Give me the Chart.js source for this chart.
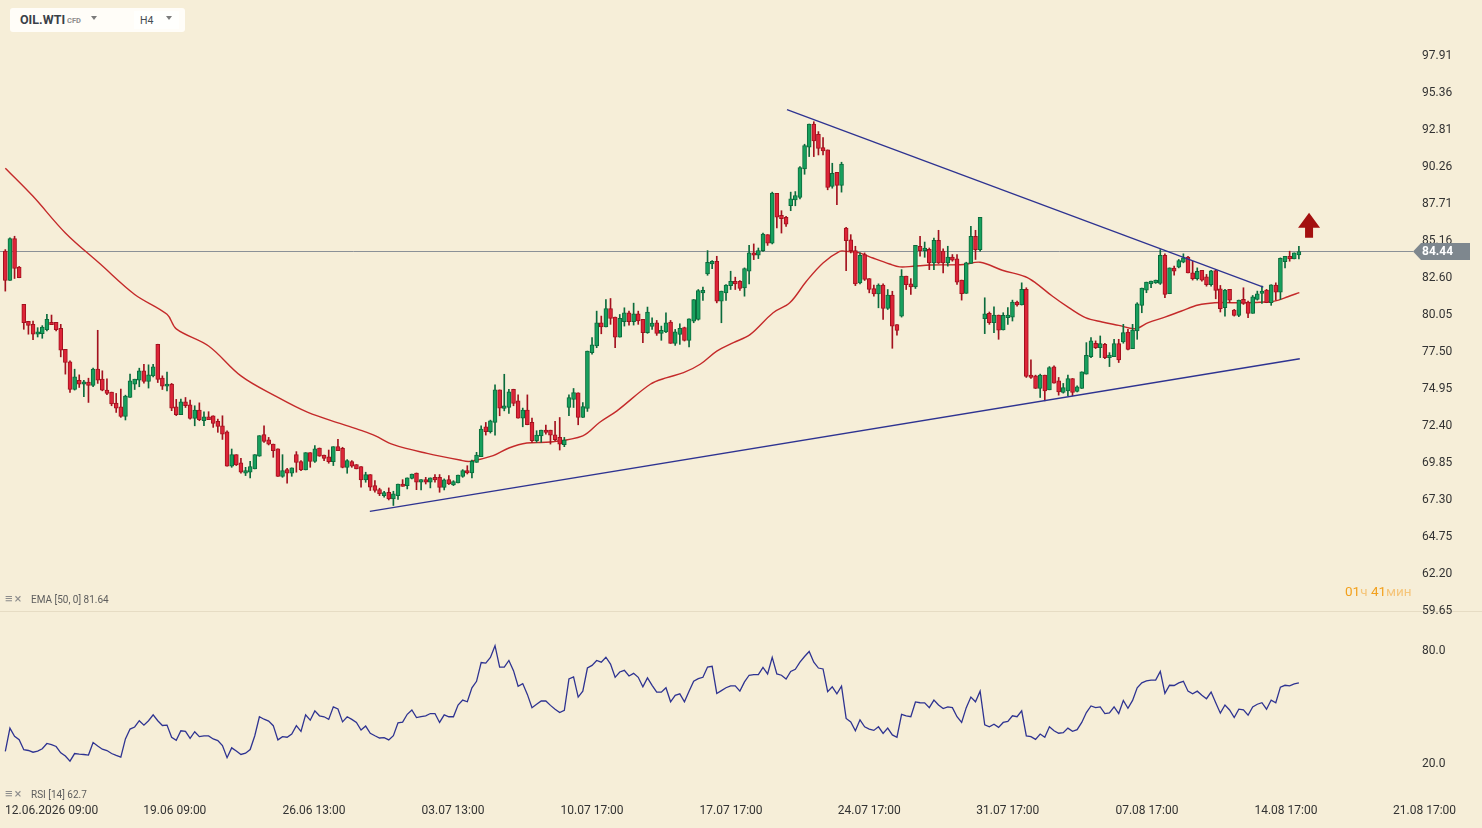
<!DOCTYPE html>
<html>
<head>
<meta charset="utf-8">
<title>OIL.WTI H4</title>
<script src="https://cdn.jsdelivr.net/npm/chart.js@4.4.1/dist/chart.umd.min.js"></script>
<style>
  html, body { margin: 0; padding: 0; width: 1482px; height: 828px; overflow: hidden;
    background: #f6eed8; font-family: Roboto, 'Noto Sans', sans-serif; }
  #priceChart { position: absolute; left: 0; top: 0; z-index: 2; }
  #rsiChart { position: absolute; left: 0; top: 612px; z-index: 1; }
  .divider { position: absolute; left: 0; top: 611px; width: 1482px; height: 1px; background: #e6dcc4; }

  /* symbol box */
  .symbol { position: absolute; left: 10px; top: 8px; width: 175px; height: 24px;
    background: #fffdf8; border-radius: 3px; z-index: 5; }
  .symbol .sym { position: absolute; left: 10px; top: 4px; font-size: 12.5px; font-weight: 700; color: #3a4047; }
  .symbol .cfd { position: absolute; left: 57px; top: 8px; font-size: 7.5px; font-weight: 700; color: #8d8d8d; }
  .caret { position: absolute; width: 0; height: 0; border-left: 3.5px solid transparent;
    border-right: 3.5px solid transparent; border-top: 4px solid #7b7b7b; }
  .symbol .c1 { left: 81px; top: 8px; }
  .symbol .tf { position: absolute; left: 124px; top: 3px; width: 45px; height: 18px; background: #fffffd; }
  .symbol .tf span.h4 { position: absolute; left: 6px; top: 3px; font-size: 10.5px; color: #454b52; }
  .symbol .c2 { left: 32px; top: 5px; }

  /* indicator captions */
  .cap { position: absolute; left: 5px; font-size: 10px; color: #5d5d5d; z-index: 5; white-space: nowrap; }
  .cap .ic { display: inline-block; width: 26px; color: #8c8c8c; font-size: 13px; letter-spacing: 2px; }
  .timer { position: absolute; left: 1345px; top: 583px; font-size: 13.5px; z-index: 5; color: #f2a01c; }
  .timer .u { color: #f5c57a; }
</style>
</head>
<body>
<canvas id="rsiChart" width="1482" height="216"></canvas>
<div class="divider"></div>
<canvas id="priceChart" width="1482" height="620"></canvas>

<div class="symbol">
  <span class="sym">OIL.WTI</span><span class="cfd">CFD</span><span class="caret c1"></span>
  <div class="tf"><span class="h4">H4</span><span class="caret c2"></span></div>
</div>
<div class="cap" style="top:591px"><span class="ic">&#8801;&#215;</span>EMA [50, 0] 81.64</div>
<div class="cap" style="top:786px"><span class="ic">&#8801;&#215;</span>RSI [14] 62.7</div>
<div class="timer">01<span class="u">ч</span> 41<span class="u">мин</span></div>

<script>
// OIL.WTI CFD, H4 candles with EMA(50) and RSI(14)

/* ── Axis labels ───────────────────────────────────────── */
const PRICE_TICKS = [97.91, 95.36, 92.81, 90.26, 87.71, 85.16, 82.60, 80.05, 77.50,
                     74.95, 72.40, 69.85, 67.30, 64.75, 62.20, 59.65];
const RSI_TICKS = [20, 80];
const TIME_LABELS = ['12.06.2026 09:00', '19.06 09:00', '26.06 13:00', '03.07 13:00', '10.07 17:00',
                     '17.07 17:00', '24.07 17:00', '31.07 17:00', '07.08 17:00', '14.08 17:00', '21.08 17:00'];
// candle index under each time label
const TIME_AT = [6.7, 36.7, 66.8, 96.9, 127.0, 157.1, 187.0, 217.0, 247.1, 277.2, 307.2];

/* ── Candles (one per 4 hours) ─────────────────────────── */
const OPEN = [
  84.45,82.43,85.32,83.35,80.79,79.62,79.41,78.73,78.77,79.05,
  79.55,79.55,79.14,77.69,76.82,74.92,75.56,75.29,75.43,75.20,
  76.32,75.63,74.88,74.74,73.99,73.73,73.07,74.37,75.29,75.56,
  76.21,75.47,75.86,78.04,75.70,75.15,75.29,73.73,73.18,74.07,
  73.87,72.93,73.50,72.77,73.04,73.11,72.72,72.42,72.01,69.63,
  70.43,69.86,69.15,69.22,69.45,70.32,71.81,71.46,71.16,70.84,
  68.94,69.40,69.15,70.43,69.95,69.38,70.57,69.97,70.89,70.41,
  70.29,69.95,70.98,70.87,69.56,69.95,69.75,69.61,68.69,69.06,
  68.30,68.02,67.61,67.84,67.38,67.61,68.41,68.30,68.80,69.17,
  68.53,68.71,68.53,68.87,68.87,68.18,68.71,68.35,68.48,68.94,
  69.33,69.17,69.90,70.29,72.35,72.01,72.65,74.89,73.61,73.68,
  74.94,74.14,72.95,73.50,72.65,71.39,71.73,72.12,72.12,71.80,
  71.62,71.12,73.68,74.23,74.69,72.99,73.61,77.46,77.92,79.52,
  79.24,80.50,79.91,78.53,79.59,80.21,79.59,80.14,79.75,78.83,
  79.27,79.52,78.79,78.88,79.57,78.10,78.72,79.18,78.31,79.63,
  79.75,81.58,82.89,83.57,83.76,81.01,81.58,82.08,82.38,82.38,
  81.92,83.07,84.33,84.17,84.49,85.59,85.01,88.43,86.92,86.78,
  87.58,87.99,88.15,90.12,91.61,93.21,92.50,91.59,91.43,88.91,
  89.89,88.98,86.05,85.24,84.49,82.27,84.21,82.56,81.88,81.51,
  82.11,80.50,81.42,79.40,79.98,82.73,82.20,81.99,84.79,84.49,
  84.58,83.64,85.20,84.45,83.65,84.04,83.92,82.46,81.54,83.60,
  85.48,84.56,79.80,80.17,79.53,80.05,79.02,79.87,79.91,80.94,
  80.74,81.82,75.91,75.86,74.99,75.91,74.90,76.48,75.52,74.72,
  74.83,75.68,74.79,74.99,75.98,77.19,78.11,77.81,78.04,77.12,
  77.19,78.08,78.20,78.88,77.74,78.95,80.72,81.77,82.20,82.27,
  82.23,84.17,81.52,83.28,83.35,83.69,84.04,82.96,82.55,83.14,
  82.69,82.14,83.12,81.86,80.56,81.82,80.40,80.03,81.13,80.95,
  80.17,81.13,81.54,81.77,80.90,82.11,81.63,83.72,84.10,83.92,84.20
];
const HIGH = [
  84.56,85.37,85.48,83.40,80.79,79.62,79.64,79.18,79.32,80.10,
  80.05,79.55,79.41,77.69,76.89,76.32,75.93,75.56,75.70,76.39,
  79.00,76.21,75.66,74.74,74.65,74.95,74.53,75.98,75.63,76.39,
  76.66,76.62,76.66,78.04,75.86,76.12,75.34,74.24,74.26,74.37,
  74.19,73.80,74.00,73.39,73.39,73.11,72.88,73.11,72.08,70.82,
  70.43,70.18,69.56,69.97,70.43,71.74,72.42,71.62,71.16,70.84,
  70.43,69.49,69.52,70.64,70.02,70.57,70.57,71.05,70.89,70.41,
  70.75,70.98,71.48,70.94,70.09,70.02,69.75,69.61,69.22,69.06,
  68.64,68.12,67.91,68.14,67.91,68.41,68.71,68.83,69.10,69.17,
  68.71,68.87,68.83,69.06,69.06,68.76,68.99,68.64,69.03,69.40,
  69.67,70.06,70.59,72.42,72.65,72.81,75.24,74.89,75.97,74.94,
  74.94,74.55,73.64,74.55,72.95,72.08,72.12,72.47,72.12,72.72,
  72.99,71.62,74.55,74.99,74.69,74.02,77.57,78.49,80.32,79.98,
  81.12,81.19,79.91,80.09,80.55,80.32,80.87,80.32,79.75,80.60,
  79.86,79.68,79.29,80.21,79.68,79.06,79.45,79.22,79.79,81.12,
  81.81,81.97,84.49,83.80,84.10,81.70,82.15,83.07,82.66,82.43,
  83.30,84.85,84.95,84.67,85.70,85.59,88.52,88.43,87.24,86.85,
  88.52,88.56,90.28,91.82,93.21,93.37,92.69,92.27,91.43,90.51,
  89.89,90.58,86.09,85.59,84.79,84.33,84.33,82.56,82.11,82.20,
  82.20,81.81,81.69,79.40,83.18,82.73,82.56,84.85,85.47,85.08,
  84.67,85.36,85.89,84.61,84.79,84.22,84.22,82.46,83.69,86.17,
  85.89,86.78,81.24,80.26,80.62,80.05,80.21,80.56,81.08,81.01,
  82.27,81.93,76.96,75.91,75.98,75.91,76.50,76.55,75.75,75.34,
  75.91,75.68,75.18,76.14,78.15,78.49,78.27,78.61,78.11,77.46,
  78.38,78.38,79.41,79.07,79.41,80.90,81.91,82.32,82.39,82.46,
  84.56,84.27,83.30,83.42,83.88,84.27,84.10,83.76,83.30,83.14,
  82.85,83.14,83.19,82.09,81.82,81.82,80.44,81.08,81.93,81.01,
  81.40,81.70,82.04,81.82,82.14,82.27,83.99,84.10,84.45,84.33,84.79
];
const LOW = [
  81.70,82.43,82.57,82.62,79.07,78.73,78.36,78.54,78.45,78.95,
  79.39,78.95,77.17,75.98,74.72,74.88,75.06,74.42,74.03,75.11,
  75.34,74.83,74.56,73.80,73.34,73.00,72.82,74.37,74.92,75.11,
  75.36,75.02,75.79,75.40,74.92,74.83,73.46,73.12,73.18,73.68,
  72.88,72.42,72.77,72.42,72.84,72.31,71.97,71.48,69.63,69.56,
  69.68,69.15,68.99,68.83,69.45,70.32,71.28,71.10,70.25,68.94,
  68.87,68.46,68.94,69.22,69.33,69.38,69.56,69.90,70.32,70.02,
  69.84,69.68,70.71,69.52,69.15,69.56,69.45,68.19,68.53,67.96,
  67.84,67.61,67.50,67.31,66.93,67.34,68.25,68.07,68.76,68.02,
  68.00,68.41,68.14,68.53,67.84,68.00,68.37,68.30,68.48,68.87,
  69.10,68.83,69.90,70.29,71.78,71.92,71.78,73.11,73.45,73.27,
  73.80,72.95,72.35,72.49,71.28,71.28,71.28,71.85,71.16,71.39,
  70.75,70.98,73.11,73.68,72.49,72.99,73.41,77.35,77.80,78.76,
  79.24,79.41,77.80,78.53,79.29,79.36,79.36,79.41,78.15,78.79,
  79.06,78.65,78.31,78.83,78.10,77.96,78.03,78.26,77.85,79.52,
  79.70,81.05,82.79,83.25,80.89,79.52,81.05,81.81,81.81,81.74,
  81.35,82.20,83.87,83.94,84.44,84.85,84.95,86.05,85.70,86.16,
  87.24,87.58,88.06,89.75,90.97,90.97,91.08,91.08,88.68,88.79,
  87.65,88.52,83.11,84.33,82.08,82.20,82.43,81.58,81.35,80.55,
  79.75,80.43,77.76,78.67,79.91,81.81,81.47,81.88,84.10,84.03,
  83.18,83.18,83.60,82.96,83.42,83.76,82.16,81.08,81.54,83.60,
  83.88,84.45,78.77,79.41,78.84,78.38,79.02,79.41,79.64,80.67,
  80.74,75.75,75.68,74.99,74.37,74.14,74.90,75.36,74.53,74.67,
  74.49,74.49,74.76,74.99,75.98,77.12,77.74,77.12,77.05,76.50,
  77.19,76.78,78.11,77.65,77.74,78.38,80.21,81.59,81.93,82.23,
  82.16,81.24,81.52,82.80,83.30,83.65,82.96,82.46,82.46,82.39,
  82.04,82.04,81.17,80.26,79.98,80.90,79.98,79.94,80.78,79.87,
  80.17,81.08,80.85,80.90,80.72,81.08,81.13,83.30,83.76,83.92,83.92
];
const CLOSE = [
  82.43,85.32,83.26,82.62,79.53,79.34,78.73,78.89,79.23,79.76,
  79.39,79.05,77.63,76.78,74.92,75.79,75.29,75.45,75.20,76.32,
  75.56,74.88,74.65,73.92,73.64,73.07,74.47,75.52,75.63,76.21,
  75.47,75.93,76.48,75.61,75.15,75.29,73.64,73.18,74.07,73.80,
  72.93,73.50,72.84,73.04,72.84,72.58,72.38,71.85,69.63,70.43,
  69.72,69.22,69.33,69.61,70.43,71.74,71.35,71.16,70.71,68.94,
  69.33,69.15,69.52,69.90,69.38,70.57,69.97,70.84,70.32,70.18,
  69.95,70.98,70.71,69.56,70.02,69.63,69.45,68.69,69.06,68.19,
  67.96,67.73,67.82,67.38,67.73,68.41,68.25,68.83,69.10,68.53,
  68.71,68.53,68.83,68.69,68.18,68.69,68.41,68.57,69.03,69.33,
  69.17,69.97,70.41,72.19,72.01,72.76,74.89,73.64,73.80,74.76,
  73.96,72.95,73.50,72.49,71.39,71.78,72.12,71.96,71.78,71.46,
  71.16,71.44,74.37,74.71,72.99,73.75,77.57,77.99,79.52,79.24,
  80.50,79.82,78.53,79.82,80.21,79.59,80.14,79.64,78.83,80.25,
  79.50,78.79,78.99,79.52,78.10,78.90,79.13,78.31,79.79,81.12,
  81.74,81.76,83.69,83.76,81.01,81.70,82.11,82.38,82.20,81.88,
  83.25,84.33,84.17,84.49,85.63,85.01,88.45,86.80,86.69,86.32,
  88.06,88.29,90.21,91.72,93.21,92.05,91.54,91.36,88.84,89.82,
  88.98,90.46,85.18,84.49,82.20,84.17,82.50,81.81,81.51,82.11,
  80.50,81.42,79.29,78.99,82.73,82.15,81.99,84.85,84.49,84.67,
  83.64,85.20,83.65,83.65,84.04,83.83,82.32,81.52,83.65,85.48,
  84.56,86.78,80.14,79.53,80.05,79.00,80.03,80.05,80.94,80.74,
  81.82,75.82,75.75,74.99,75.91,74.83,76.43,75.36,74.76,75.06,
  75.68,74.72,75.11,76.14,77.28,78.27,77.81,78.08,77.12,77.30,
  78.08,76.96,78.84,77.69,79.02,80.83,81.91,82.32,82.39,82.46,
  84.17,81.47,83.30,83.07,83.81,83.99,82.96,82.55,83.07,82.46,
  82.14,83.10,81.75,80.49,81.77,81.08,80.03,81.08,80.85,80.17,
  81.31,81.52,81.70,80.90,82.14,81.63,83.95,84.10,83.92,84.33,84.43
];
const LAST_PRICE = 84.44;

/* ── EMA(50), read at sample candles ───────────────────── */
const EMA_AT = [0, 6, 13, 20.5, 28, 35, 37, 44, 51, 58.4, 65.5, 72.9, 77, 80, 84, 91.3, 98.4, 100.5,
  105.6, 109, 112.9, 118, 125, 128.6, 132.4, 139.6, 143.2, 146.8, 150.4, 154, 157.6, 161.2, 166.2,
  169.8, 173.4, 177, 180.6, 182, 184.9, 187.8, 191.4, 193.6, 196.5, 200.2, 207.4, 211, 215.8, 220.8,
  223, 226.6, 230.2, 233.8, 237.4, 241, 244.6, 247.4, 251, 254.6, 258.2, 261.8, 265.4, 269, 272.6,
  274.7, 277.6, 280.1];
const EMA_VAL = [90.17, 88.23, 85.71, 83.58, 81.47, 80.10, 79.10, 77.92, 75.86, 74.48, 73.34, 72.54,
  72.10, 71.74, 71.12, 70.52, 70.06, 69.97, 70.36, 70.89, 71.23, 71.30, 71.73, 72.65, 73.45, 75.28,
  75.74, 76.08, 76.66, 77.57, 78.15, 78.70, 80.21, 80.89, 82.38, 83.64, 84.44, 84.44, 84.33, 83.98,
  83.57, 83.37, 83.41, 83.50, 83.53, 83.69, 83.14, 82.69, 82.27, 81.36, 80.56, 79.87, 79.57, 79.34,
  79.11, 79.53, 79.91, 80.33, 80.74, 80.90, 80.90, 80.90, 80.95, 81.01, 81.31, 81.60];

/* ── Trend lines: [candle index], [price] ──────────────── */
const UPPER_AT = [169.2, 272.3];
const UPPER_VAL = [94.20, 81.98];
const LOWER_AT = [78.9, 280.2];
const LOWER_VAL = [66.53, 77.04];

/* ── RSI(14), one value per candle ─────────────────────── */
const RSI = [
  26.8,39.1,34.8,33.0,27.7,27.3,26.4,27.0,28.2,31.0,
  30.4,29.4,26.1,24.4,21.7,25.7,25.4,25.2,24.9,31.5,
  29.7,28.0,27.3,25.7,24.7,23.8,33.4,38.6,39.7,43.0,
  40.7,43.0,46.1,43.0,40.5,40.7,34.3,32.7,37.7,37.4,
  33.7,37.2,34.6,35.0,35.0,33.4,32.5,29.9,23.5,28.7,
  27.0,25.2,25.9,27.8,35.1,45.1,43.8,42.8,40.4,32.9,
  34.6,34.3,36.0,40.4,37.4,46.1,43.3,48.2,45.6,45.1,
  43.7,50.3,49.2,42.4,45.1,43.7,42.1,38.1,40.2,36.4,
  35.1,33.9,34.1,32.9,35.1,41.9,42.3,46.4,48.7,44.7,
  45.2,45.6,46.8,46.8,42.1,46.1,45.1,45.1,51.3,53.9,
  53.0,60.4,63.8,73.7,73.4,76.4,82.6,71.3,71.3,74.8,
  69.4,61.2,62.6,56.9,49.9,51.7,53.4,53.4,51.1,49.1,
  47.3,48.5,65.0,66.1,55.5,58.6,70.8,72.2,74.8,73.9,
  76.5,72.9,65.9,68.7,69.6,66.6,68.0,65.9,60.9,65.6,
  61.7,58.1,58.1,60.4,53.0,56.4,57.2,53.0,58.6,63.8,
  65.2,65.9,71.3,71.7,57.4,58.9,60.4,61.4,61.4,58.6,
  63.5,67.0,67.3,67.3,71.1,67.7,76.4,67.7,67.0,65.0,
  69.0,70.1,73.9,76.9,79.5,73.9,70.8,70.3,58.3,60.9,
  57.2,61.2,44.2,42.4,37.7,43.5,39.8,38.6,37.9,39.8,
  36.3,39.1,35.5,34.3,46.4,45.6,45.1,52.9,52.5,52.4,
  49.9,53.9,51.3,49.4,50.3,49.9,45.1,42.1,49.9,55.5,
  53.0,58.6,40.9,39.8,41.2,39.5,42.1,42.6,45.6,45.1,
  48.2,35.0,34.6,33.2,36.0,34.3,39.8,37.7,36.4,36.7,
  39.1,37.4,38.3,42.1,47.3,50.8,49.9,50.3,46.8,47.1,
  50.3,46.8,53.7,49.6,53.7,60.4,63.0,64.0,64.4,64.4,
  69.0,57.4,61.7,61.6,63.0,63.8,58.6,57.2,58.6,56.4,
  54.6,58.1,52.5,47.0,51.3,48.7,44.7,49.1,48.7,45.9,
  50.3,51.7,52.5,49.1,53.9,52.5,60.7,61.7,61.4,62.4,63.0
];

(function () {
    'use strict';

    Chart.defaults.font.family = "Roboto, 'Noto Sans', sans-serif";
    Chart.defaults.font.size = 12;
    Chart.defaults.color = '#333';
    Chart.defaults.animation = false;
    Chart.defaults.plugins.legend.display = false;
    Chart.defaults.plugins.tooltip.enabled = false;

    const X_MIN = -1.15, X_MAX = 304.05;   // visible candle range incl. empty future space
    const AXIS_W = 72;

    const UP_FILL = '#17a05d', UP_EDGE = '#0b6b3c';
    const DN_FILL = '#dd2538', DN_EDGE = '#a3111e';
    const EMA_RED = '#c42a2a';
    const NAVY = '#2e3391';

    const idx = CLOSE.map((_, i) => i);
    const up = idx.map(i => CLOSE[i] >= OPEN[i]);

    function xAxis() {
        return { type: 'linear', min: X_MIN, max: X_MAX, display: false, offset: false };
    }

    // right-hand value axis; no label padding so the plot fills the panel
    function rightAxis(min, max, ticks, digits) {
        return {
            position: 'right', min, max,
            grid: { display: false, drawTicks: false },
            border: { display: false },
            afterBuildTicks: s => { s.ticks = ticks.map(v => ({ value: v })); },
            afterFit: s => { s.width = AXIS_W; s.paddingTop = 0; s.paddingBottom = 0; },
            ticks: { padding: 12, color: '#333', font: { size: 12 }, callback: v => v.toFixed(digits) }
        };
    }

    /* ── price line, price tag and signal arrow ────────────── */
    const priceDeco = {
        id: 'priceDeco',
        beforeDatasetsDraw(chart) {
            const { ctx, chartArea: a, scales: { y } } = chart;
            const py = Math.round(y.getPixelForValue(LAST_PRICE)) + 0.5;
            ctx.save();
            ctx.strokeStyle = '#8b9197';
            ctx.lineWidth = 1;
            ctx.beginPath();
            ctx.moveTo(a.left, py);
            ctx.lineTo(a.right + 3, py);
            ctx.stroke();
            ctx.restore();
        },
        afterDraw(chart) {
            const { ctx, chartArea: a, scales: { x, y } } = chart;
            const py = Math.round(y.getPixelForValue(LAST_PRICE));
            ctx.save();
            // tag
            ctx.fillStyle = '#7e878e';
            ctx.beginPath();
            ctx.moveTo(a.right + 3, py + 0.5);
            ctx.lineTo(a.right + 11, py - 8);
            ctx.lineTo(a.right + 60, py - 8);
            ctx.lineTo(a.right + 60, py + 9);
            ctx.lineTo(a.right + 11, py + 9);
            ctx.closePath();
            ctx.fill();
            ctx.fillStyle = '#ffffff';
            ctx.font = "bold 12px Roboto, 'Noto Sans', sans-serif";
            ctx.textAlign = 'left';
            ctx.textBaseline = 'middle';
            ctx.fillText(LAST_PRICE.toFixed(2), a.right + 12, py + 1);
            // up arrow after the last candle
            const cx = x.getPixelForValue(282.2);
            const tip = y.getPixelForValue(87.1);
            ctx.fillStyle = '#a3100f';
            ctx.beginPath();
            ctx.moveTo(cx, tip);
            ctx.lineTo(cx + 11, tip + 15);
            ctx.lineTo(cx + 4, tip + 15);
            ctx.lineTo(cx + 4, tip + 25);
            ctx.lineTo(cx - 4, tip + 25);
            ctx.lineTo(cx - 4, tip + 15);
            ctx.lineTo(cx - 11, tip + 15);
            ctx.closePath();
            ctx.fill();
            ctx.restore();
        }
    };

    /* ── 1. Price panel ────────────────────────────────────── */
    new Chart(document.getElementById('priceChart'), {
        type: 'bar',
        data: {
            datasets: [
                {
                    type: 'line',
                    data: EMA_AT.map((v, k) => ({ x: v, y: EMA_VAL[k] })),
                    borderColor: EMA_RED,
                    borderWidth: 1.4,
                    pointRadius: 0,
                    tension: 0.35,
                    order: 4,
                },
                {
                    data: idx.map(i => ({ x: i, y: [LOW[i], HIGH[i]] })),
                    backgroundColor: idx.map(i => up[i] ? UP_EDGE : DN_EDGE),
                    barThickness: 1,
                    grouped: false,
                    order: 3,
                },
                {
                    data: idx.map(i => ({ x: i, y: [OPEN[i], CLOSE[i]] })),
                    backgroundColor: idx.map(i => up[i] ? UP_FILL : DN_FILL),
                    borderColor: idx.map(i => up[i] ? UP_EDGE : DN_EDGE),
                    borderWidth: 1,
                    borderSkipped: false,
                    barThickness: 4,
                    minBarLength: 1,
                    grouped: false,
                    order: 2,
                },
                {
                    type: 'line',
                    data: UPPER_AT.map((v, k) => ({ x: v, y: UPPER_VAL[k] })),
                    borderColor: NAVY,
                    borderWidth: 1.3,
                    pointRadius: 0,
                    order: 1,
                },
                {
                    type: 'line',
                    data: LOWER_AT.map((v, k) => ({ x: v, y: LOWER_VAL[k] })),
                    borderColor: NAVY,
                    borderWidth: 1.3,
                    pointRadius: 0,
                    order: 1,
                }
            ]
        },
        options: {
            responsive: false,
            layout: { autoPadding: false, padding: { left: 0, right: 0, top: 2, bottom: 8 } },
            scales: {
                x: xAxis(),
                y: rightAxis(59.59, 101.62, PRICE_TICKS, 2)
            }
        },
        plugins: [priceDeco]
    });

    /* ── time labels under the RSI panel ───────────────────── */
    const timeAxis = {
        id: 'timeAxis',
        afterDraw(chart) {
            const { ctx, chartArea: a, scales: { x } } = chart;
            ctx.save();
            ctx.fillStyle = '#333';
            ctx.font = "12px Roboto, 'Noto Sans', sans-serif";
            ctx.textAlign = 'center';
            ctx.textBaseline = 'middle';
            TIME_LABELS.forEach((t, k) => {
                const w = ctx.measureText(t).width;
                const px = Math.max(x.getPixelForValue(TIME_AT[k]), 5 + w / 2);
                ctx.fillText(t, px, a.bottom + 16);
            });
            ctx.restore();
        }
    };

    /* ── 2. RSI panel ──────────────────────────────────────── */
    new Chart(document.getElementById('rsiChart'), {
        type: 'line',
        data: {
            datasets: [{
                data: RSI.map((v, i) => ({ x: i, y: v })),
                borderColor: NAVY,
                borderWidth: 1.3,
                pointRadius: 0,
                tension: 0,
            }]
        },
        options: {
            responsive: false,
            layout: { autoPadding: false, padding: { left: 0, right: 0, top: 2, bottom: 33 } },
            scales: {
                x: xAxis(),
                y: rightAxis(3.83, 99.3, RSI_TICKS, 1)
            }
        },
        plugins: [timeAxis]
    });
})();
</script>
</body>
</html>
